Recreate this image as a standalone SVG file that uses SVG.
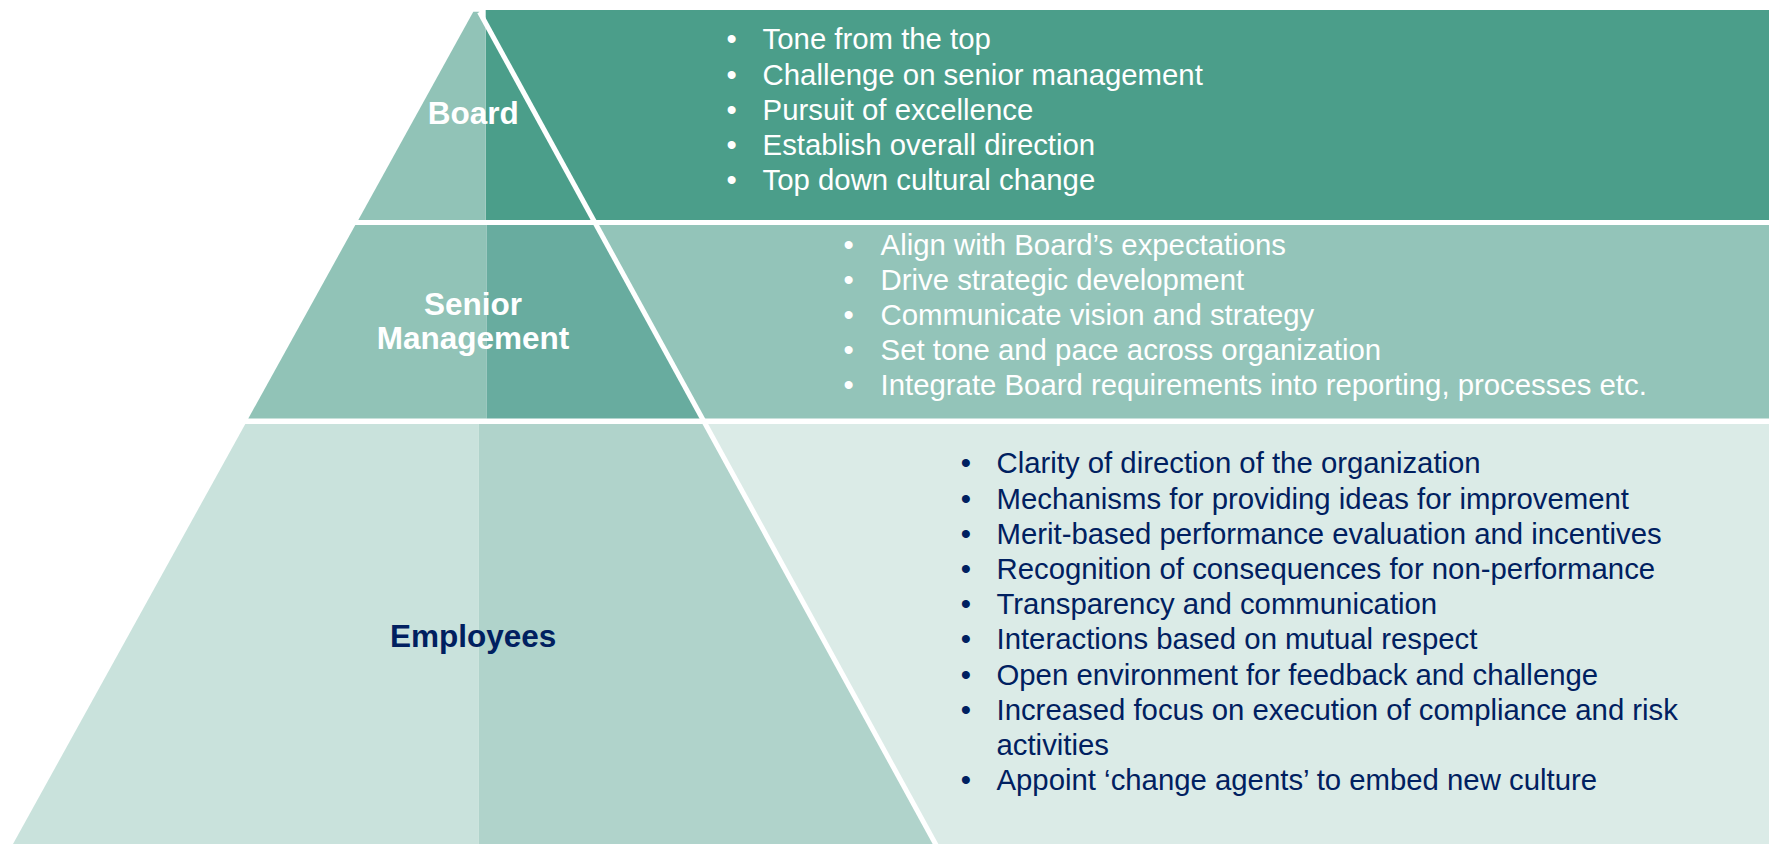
<svg xmlns="http://www.w3.org/2000/svg" width="1769" height="844" viewBox="0 0 1769 844">
  <style>
    .lbl { font-family: "Liberation Sans", Arial, sans-serif; font-weight: bold; font-size: 31.5px; text-anchor: middle; }
    .item { font-family: "Liberation Sans", Arial, sans-serif; font-size: 29.33px; }
    .dot { font-family: "Liberation Sans", Arial, sans-serif; font-size: 29.33px; text-anchor: middle; }
    .light { fill: #ffffff; }
    .navy { fill: #002060; }
    .divider { stroke: #ffffff; stroke-width: 5; fill: none; }
  </style>
  <rect x="0" y="0" width="1769" height="844" fill="#ffffff"/>

  <!-- Top tier: Board -->
  <g id="tier-board">
    <rect x="485.7" y="10" width="1283.3" height="210" fill="#4B9E8A"/>
    <polygon points="473.3,11.7 479.3,11.7 485.7,23.3 485.7,220 358.3,220" fill="#91C3B7"/>
    <text class="lbl light" x="473.3" y="124">Board</text>
    <g class="light">
      <text class="dot" x="731.7" y="49.3">•</text>
      <text class="item" x="762.6" y="49.3">Tone from the top</text>
      <text class="dot" x="731.7" y="84.5">•</text>
      <text class="item" x="762.6" y="84.5">Challenge on senior management</text>
      <text class="dot" x="731.7" y="119.7">•</text>
      <text class="item" x="762.6" y="119.7">Pursuit of excellence</text>
      <text class="dot" x="731.7" y="154.9">•</text>
      <text class="item" x="762.6" y="154.9">Establish overall direction</text>
      <text class="dot" x="731.7" y="190.1">•</text>
      <text class="item" x="762.6" y="190.1">Top down cultural change</text>
    </g>
  </g>

  <!-- Middle tier: Senior Management -->
  <g id="tier-senior">
    <polygon points="596.2,225 1769,225 1769,418.5 702.3,418.5" fill="#93C4B9"/>
    <polygon points="355.3,225 486.7,225 486.7,418.5 248.3,418.5" fill="#91C3B7"/>
    <polygon points="486.7,225 596.2,225 702.3,418.5 486.7,418.5" fill="#68AC9F"/>
    <text class="lbl light" x="473" y="315">Senior</text>
    <text class="lbl light" x="473" y="349">Management</text>
    <g class="light">
      <text class="dot" x="848.6" y="254.6">•</text>
      <text class="item" x="880.6" y="254.6">Align with Board’s expectations</text>
      <text class="dot" x="848.6" y="289.8">•</text>
      <text class="item" x="880.6" y="289.8">Drive strategic development</text>
      <text class="dot" x="848.6" y="325">•</text>
      <text class="item" x="880.6" y="325">Communicate vision and strategy</text>
      <text class="dot" x="848.6" y="360.2">•</text>
      <text class="item" x="880.6" y="360.2">Set tone and pace across organization</text>
      <text class="dot" x="848.6" y="395.4">•</text>
      <text class="item" x="880.6" y="395.4">Integrate Board requirements into reporting, processes etc.</text>
    </g>
  </g>

  <!-- Base tier: Employees -->
  <g id="tier-employees">
    <polygon points="705.3,424 1769,424 1769,844 935.5,844" fill="#DBEBE7"/>
    <polygon points="245.3,424 478.7,424 478.7,844 13,844" fill="#C9E2DC"/>
    <polygon points="478.7,424 705.3,424 935.5,844 478.7,844" fill="#B0D3CB"/>
    <text class="lbl navy" x="473.2" y="646.7">Employees</text>
    <g class="navy">
      <text class="dot" x="966" y="473.3">•</text>
      <text class="item" x="996.5" y="473.3">Clarity of direction of the organization</text>
      <text class="dot" x="966" y="508.5">•</text>
      <text class="item" x="996.5" y="508.5">Mechanisms for providing ideas for improvement</text>
      <text class="dot" x="966" y="543.7">•</text>
      <text class="item" x="996.5" y="543.7">Merit-based performance evaluation and incentives</text>
      <text class="dot" x="966" y="578.9">•</text>
      <text class="item" x="996.5" y="578.9">Recognition of consequences for non-performance</text>
      <text class="dot" x="966" y="614.1">•</text>
      <text class="item" x="996.5" y="614.1">Transparency and communication</text>
      <text class="dot" x="966" y="649.3">•</text>
      <text class="item" x="996.5" y="649.3">Interactions based on mutual respect</text>
      <text class="dot" x="966" y="684.5">•</text>
      <text class="item" x="996.5" y="684.5">Open environment for feedback and challenge</text>
      <text class="dot" x="966" y="719.7">•</text>
      <text class="item" x="996.5" y="719.7">Increased focus on execution of compliance and risk</text>
      <text class="item" x="996.5" y="754.9">activities</text>
      <text class="dot" x="966" y="790.1">•</text>
      <text class="item" x="996.5" y="790.1">Appoint ‘change agents’ to embed new culture</text>
    </g>
  </g>

  <!-- White slanted divider separating the pyramid from the description bands -->
  <g id="connectors">
    <line class="divider" x1="479.5" y1="12" x2="937.7" y2="848"/>
  </g>
</svg>
